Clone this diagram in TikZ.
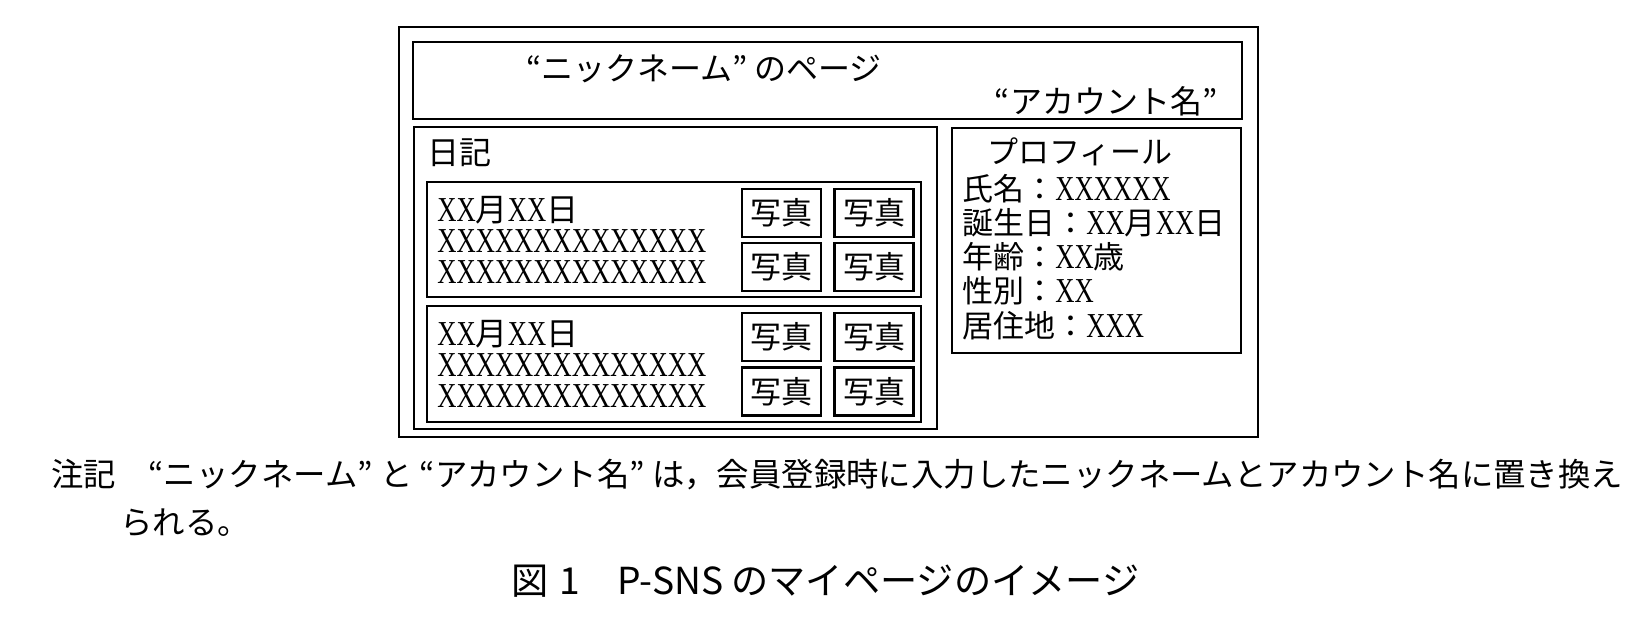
\documentclass[tikz,border=0pt]{standalone}
\usepackage{fontspec}
\setmainfont{Noto Sans CJK JP}
\newfontfamily\xf[FakeStretch=0.76]{Liberation Serif}
\newcommand{\XX}[1]{{\xf\fontsize{17.5}{18}\selectfont #1}}
\newcommand{\threelines}[3]{{\baselineskip=15.5pt\lineskiplimit=-20pt\vtop{\hbox{#1}\hbox{#2}\hbox{#3}}}}
\begin{document}
\begin{tikzpicture}[x=0.5pt,y=-0.5pt,
  frame/.style={draw,line width=1.25pt},
  photo/.style={draw,line width=1.1pt,minimum width=39.5pt,minimum height=24pt,inner sep=0pt,font=\fontsize{15.5}{16}\selectfont},
  txt/.style={inner sep=0pt,anchor=base west,font=\fontsize{16}{16}\selectfont},
  ptxt/.style={inner sep=0pt,anchor=base west,font=\fontsize{15.5}{16}\selectfont},
]
\useasboundingbox (0,0) rectangle (1650,636);
% frames
\draw[frame] (399,27) rectangle (1258,437);
\draw[frame] (413,42) rectangle (1242,119);
\draw[frame] (414,127) rectangle (937,429);
\draw[frame] (952,128) rectangle (1241,353);
\draw[frame] (427,182) rectangle (921,297);
\draw[frame] (427,306) rectangle (921,422);
% header
\node[txt,anchor=base] (nick) at (704,81) {“ニックネーム” のページ};
\node[txt,anchor=base] (acct) at (1106,114) {“アカウント名”};
% diary
\node[txt] (diary) at (427,165) {日記};
\node[txt] (d1) at (437,222) {\threelines{\XX{XX}月\XX{XX}日}{\XX{XXXXXXXXXXXXXX}}{\XX{XXXXXXXXXXXXXX}}};
\node[txt] (d2) at (437,346) {\threelines{\XX{XX}月\XX{XX}日}{\XX{XXXXXXXXXXXXXX}}{\XX{XXXXXXXXXXXXXX}}};
% photos
\node[photo] (p11) at (781.5,213) {写真};
\node[photo] (p12) at (874,213) {写真};
\node[photo] (p13) at (781.5,267) {写真};
\node[photo] (p14) at (874,267) {写真};
\node[photo] (p21) at (781.5,337) {写真};
\node[photo] (p22) at (874,337) {写真};
\node[photo] (p23) at (781.5,391.5) {写真};
\node[photo] (p24) at (874,391.5) {写真};
% profile
\node[ptxt,anchor=base] (prof) at (1080,164) {プロフィール};
\node[ptxt] (pr1) at (962,201) {氏名：\XX{XXXXXX}};
\node[ptxt] (pr2) at (962,235) {誕生日：\XX{XX}月\XX{XX}日};
\node[ptxt] (pr3) at (962,269) {年齢：\XX{XX}歳};
\node[ptxt] (pr4) at (962,303) {性別：\XX{XX}};
\node[ptxt] (pr5) at (962,338) {居住地：\XX{XXX}};
% note
\node[ptxt,font=\fontsize{16.2}{16}\selectfont] (note1) at (51,486) {注記\hspace{1em}“ニックネーム” と “アカウント名” は，会員登録時に入力したニックネームとアカウント名に置き換え};
\node[ptxt,font=\fontsize{16.2}{16}\selectfont] (note2) at (120,534) {られる。};
% caption
\node[inner sep=0pt,anchor=base west,font=\fontsize{18.6}{18}\selectfont] (cap) at (511,594) {図\hspace{0.3em}1\hspace{1em}P-SNS のマイページのイメージ};
\end{tikzpicture}
\end{document}
